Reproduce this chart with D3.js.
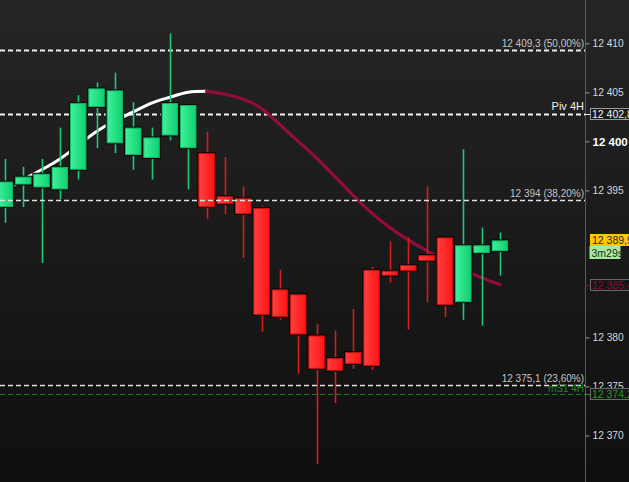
<!DOCTYPE html>
<html>
<head>
<meta charset="utf-8">
<script src="https://cdnjs.cloudflare.com/ajax/libs/d3/7.8.5/d3.min.js"></script>
<style>
body { margin: 0; background: #111; overflow: hidden; }
svg { display: block; font-family: "Liberation Sans", Arial, sans-serif; }
</style>
</head>
<body>
<div id="chart"></div>
<script>
// candles, oldest first
var opens  = [12393.3, 12395.6, 12395.3, 12395.1, 12397.1, 12403.5, 12399.8, 12398.6, 12398.3, 12400.6,
              12399.3, 12398.8, 12394.4, 12394.2, 12393.2, 12384.9, 12384.4, 12380.2, 12377.9, 12378.5,
              12386.9, 12386.8, 12387.4, 12388.4, 12390.2, 12383.6, 12388.6, 12388.8];
var highs  = [12398.2, 12397.4, 12398.2, 12401.4, 12404.7, 12406.0, 12407.0, 12404.0, 12401.4, 12411.0,
              12403.7, 12401.0, 12398.4, 12395.4, 12393.4, 12386.9, 12384.4, 12381.4, 12380.7, 12382.9,
              12387.2, 12389.8, 12390.2, 12395.4, 12390.2, 12399.2, 12391.2, 12390.7];
var lows   = [12391.7, 12393.3, 12387.6, 12394.1, 12396.1, 12399.3, 12398.8, 12397.1, 12396.1, 12400.1,
              12395.1, 12392.1, 12392.6, 12388.1, 12380.6, 12381.8, 12376.3, 12367.1, 12373.3, 12376.8,
              12376.7, 12385.6, 12380.8, 12383.6, 12382.1, 12381.8, 12381.2, 12386.3];
var closes = [12395.9, 12396.4, 12396.7, 12397.4, 12403.9, 12405.4, 12405.2, 12401.4, 12400.4, 12403.9,
              12403.7, 12393.3, 12393.6, 12392.6, 12382.3, 12382.1, 12380.3, 12376.8, 12376.6, 12377.3,
              12377.1, 12386.3, 12386.8, 12387.8, 12383.3, 12389.4, 12389.4, 12389.9];

// moving average, one value per candle
var maValues = [12395.0, 12396.1, 12397.1, 12398.2, 12399.6, 12401.0, 12402.1, 12403.0, 12403.9, 12404.5,
                12405.0, 12405.1, 12404.8, 12404.3, 12403.35, 12401.7, 12400.0, 12398.3, 12396.4, 12394.5,
                12392.7, 12391.2, 12389.95, 12388.85, 12387.85, 12386.9, 12386.1, 12385.4];
var maTurn = 11;

var priceTicks = [12370, 12375, 12380, 12395, 12400, 12405, 12410];

var levelValues = [12409.3, 12402.8, 12394, 12375.1];
var levelLabels = ["12 409,3 (50,00%)", "Piv 4H", "12 394 (38,20%)", "12 375,1 (23,60%)"];
var s1Value = 12374.2;
var s1Label = "mS1 4H";

var lastPrice = 12389.9;
var lastPriceText = "12 389,9";
var timerText = "3m29s";
var maText = "12 385,4";
var pivText = "12 402,8";
var s1Text = "12 374,2";

var width = 629, height = 482, axisX = 585;

var svg = d3.select("#chart").append("svg")
    .attr("width", width)
    .attr("height", height);

var defs = svg.append("defs");
var bg = defs.append("linearGradient").attr("id", "bg").attr("x1", 0).attr("y1", 0).attr("x2", 0).attr("y2", 1);
bg.append("stop").attr("offset", "0%").attr("stop-color", "#252525");
bg.append("stop").attr("offset", "100%").attr("stop-color", "#0f0f0f");

var gUp = defs.append("linearGradient").attr("id", "gUp").attr("x1", 0).attr("y1", 0).attr("x2", 1).attr("y2", 0);
gUp.append("stop").attr("offset", "0%").attr("stop-color", "#3ff09a");
gUp.append("stop").attr("offset", "100%").attr("stop-color", "#10d070");
var gDown = defs.append("linearGradient").attr("id", "gDown").attr("x1", 0).attr("y1", 0).attr("x2", 1).attr("y2", 0);
gDown.append("stop").attr("offset", "0%").attr("stop-color", "#ff4040");
gDown.append("stop").attr("offset", "100%").attr("stop-color", "#ff1414");

svg.append("rect")
    .attr("width", width)
    .attr("height", height)
    .attr("fill", "url(#bg)");

var idx = d3.range(opens.length);

var x = d3.scaleBand()
    .domain(idx)
    .range([-5.2, 510])
    .padding(0.1);

var y = d3.scaleLinear()
    .domain([12370, 12410])
    .range([435.5, 43.3]);

function cx(i) { return x(i) + x.bandwidth() / 2; }

var plot = svg.append("g").attr("class", "plot");

// levels under the candles
function drawLevel(v, color, w) {
    plot.append("line")
        .attr("x1", 0).attr("x2", axisX)
        .attr("y1", Math.round(y(v)) + 0.5).attr("y2", Math.round(y(v)) + 0.5)
        .attr("stroke", color)
        .attr("stroke-width", w)
        .attr("stroke-dasharray", "5,3");
}
drawLevel(levelValues[0], "#e8e8e8", 2);
drawLevel(levelValues[1], "#f4f4f4", 2);
drawLevel(s1Value, "#1d7a1d", 1.2);

// moving average
var ma = d3.line()
    .x(function (d) { return cx(d); })
    .y(function (d) { return y(maValues[d]); })
    .curve(d3.curveNatural);

plot.append("path")
    .attr("d", ma(idx.slice(0, maTurn + 1)))
    .attr("fill", "none")
    .attr("stroke", "#ffffff")
    .attr("stroke-width", 3)
    .attr("stroke-linecap", "round");

plot.append("path")
    .attr("d", ma(idx.slice(maTurn)))
    .attr("fill", "none")
    .attr("stroke", "#920c3c")
    .attr("stroke-width", 3.2)
    .attr("stroke-linecap", "round");

// wicks
plot.selectAll(".wick")
    .data(idx)
    .enter().append("line")
    .attr("class", "wick")
    .attr("x1", function (d) { return Math.round(cx(d)) + 0.5; })
    .attr("x2", function (d) { return Math.round(cx(d)) + 0.5; })
    .attr("y1", function (d) { return y(highs[d]); })
    .attr("y2", function (d) { return y(lows[d]); })
    .attr("stroke", function (d) { return closes[d] >= opens[d] ? "#22c877" : "#d81c1c"; })
    .attr("stroke-width", 1.6);

// bodies: dark outline then filled rect
var body = plot.selectAll(".body")
    .data(idx)
    .enter().append("g")
    .attr("class", "body");

body.append("rect")
    .attr("x", function (d) { return x(d) - 1; })
    .attr("y", function (d) { return y(Math.max(opens[d], closes[d])) - 1; })
    .attr("width", x.bandwidth() + 2)
    .attr("height", function (d) { return Math.max(2, Math.abs(y(opens[d]) - y(closes[d]))) + 2; })
    .attr("fill", "#070707");

body.append("rect")
    .attr("x", function (d) { return x(d) + 0.5; })
    .attr("y", function (d) { return y(Math.max(opens[d], closes[d])) + 0.5; })
    .attr("width", x.bandwidth() - 1)
    .attr("height", function (d) { return Math.max(1, Math.abs(y(opens[d]) - y(closes[d])) - 1); })
    .attr("fill", function (d) { return closes[d] >= opens[d] ? "url(#gUp)" : "url(#gDown)"; })
    .attr("stroke", function (d) { return closes[d] >= opens[d] ? "#12b866" : "#c81212"; })
    .attr("stroke-width", 1);

// fib levels over the candles
drawLevel(levelValues[2], "#e0e0e0", 1.6);
drawLevel(levelValues[3], "#e0e0e0", 1.6);

// level labels
var labels = svg.append("g")
    .attr("text-anchor", "end")
    .attr("font-size", "10px");

labels.append("text").attr("x", 584).attr("y", y(levelValues[0]) - 3).attr("fill", "#c4c4c4").text(levelLabels[0]);
labels.append("text").attr("x", 584).attr("y", y(levelValues[1]) - 4).attr("fill", "#f0f0f0").attr("font-size", "11px").text(levelLabels[1]);
labels.append("text").attr("x", 584).attr("y", y(levelValues[2]) - 3).attr("fill", "#c4c4c4").text(levelLabels[2]);
labels.append("text").attr("x", 584).attr("y", y(s1Value) - 2).attr("fill", "#1f8a1f").text(s1Label);
labels.append("text").attr("x", 584).attr("y", y(levelValues[3]) - 3).attr("fill", "#c4c4c4").text(levelLabels[3]);

// price axis
var axis = svg.append("g")
    .attr("transform", "translate(" + (axisX + 0.5) + ",0)")
    .call(d3.axisRight(y)
        .tickValues(priceTicks)
        .tickSize(4)
        .tickPadding(3)
        .tickFormat(function (d) { return d3.format(",")(d).replace(",", " "); }));

axis.select(".domain").attr("stroke", "#5a5a5a").attr("d", "M0,0V" + height);
axis.selectAll(".tick line").attr("stroke", "#9a9a9a");
axis.selectAll(".tick text")
    .attr("fill", "#d8d8d8")
    .attr("font-size", "10.2px")
    .attr("font-family", "Liberation Sans, Arial, sans-serif");
axis.selectAll(".tick text")
    .filter(function (d) { return d === 12400; })
    .attr("fill", "#ffffff")
    .attr("font-weight", "bold")
    .attr("font-size", "11.5px");

// price boxes on the axis
function priceBox(v, txt, fill, stroke, color) {
    var yy = Math.round(y(v));
    svg.append("line")
        .attr("x1", axisX).attr("x2", 590)
        .attr("y1", yy + 0.5).attr("y2", yy + 0.5)
        .attr("stroke", color);
    svg.append("rect")
        .attr("x", 590.5).attr("y", yy - 5.5)
        .attr("width", 45).attr("height", 11)
        .attr("fill", fill)
        .attr("stroke", stroke);
    svg.append("text")
        .attr("x", 592).attr("y", yy + 4)
        .attr("font-size", "10.5px")
        .attr("fill", color)
        .text(txt);
}

priceBox(levelValues[1], pivText, "#1b1b1b", "#9a9a9a", "#f2f2f2");
priceBox(s1Value, s1Text, "#161616", "#6a6a6a", "#1f9a1f");
priceBox(maValues[maValues.length - 1], maText, "#161616", "#6a6a6a", "#8e0b32");
priceBox(lastPrice, lastPriceText, "#ffc800", "#ffc800", "#2a2a2a");

var ly = Math.round(y(lastPrice));
svg.append("rect")
    .attr("x", 589.5).attr("y", ly + 6)
    .attr("width", 31).attr("height", 13)
    .attr("fill", "#a6e8a0");
svg.append("text")
    .attr("x", 591.5).attr("y", ly + 16.5)
    .attr("font-size", "10.5px")
    .attr("fill", "#183018")
    .text(timerText);
</script>
</body>
</html>
